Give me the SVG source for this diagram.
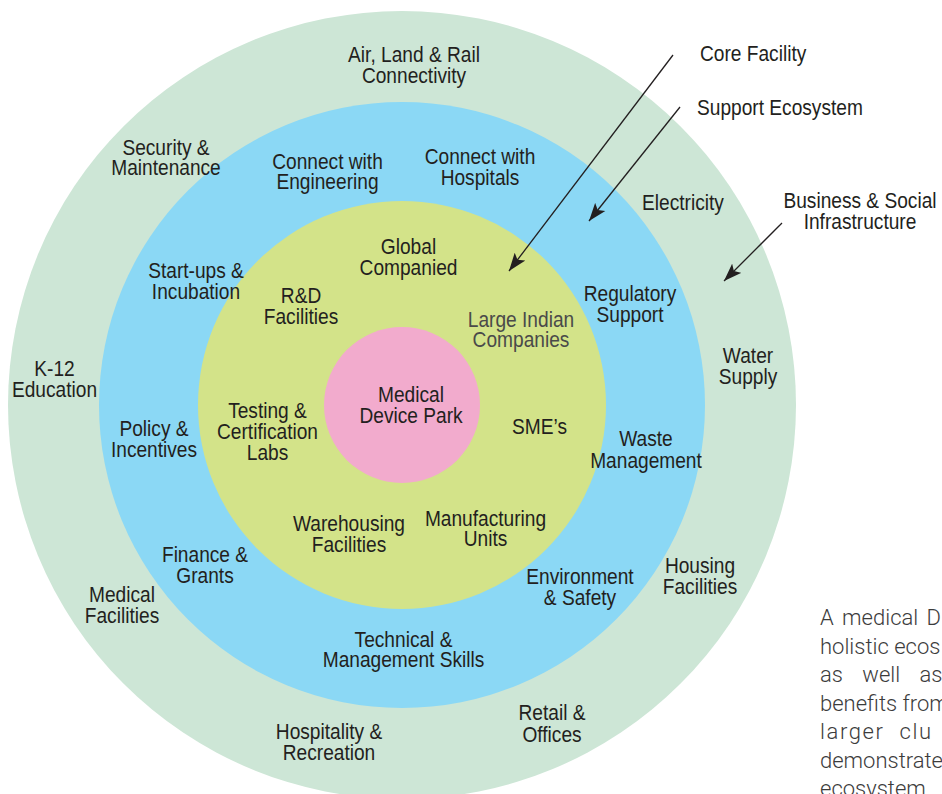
<svg xmlns="http://www.w3.org/2000/svg" width="942" height="794" viewBox="0 0 942 794">
<defs>
<style>
.t{font-family:"Liberation Sans",Arial,sans-serif;font-size:21.5px;fill:#231f20;text-anchor:middle}
.g{fill:#4a4a4a}
.p{font-family:Roboto,"Liberation Sans",sans-serif;font-weight:300;font-size:22px;fill:#3c3c3c}
.c{stroke:#231f20;stroke-width:1.3;fill:none}
</style>
<marker id="ah" markerUnits="userSpaceOnUse" markerWidth="20" markerHeight="14" refX="18" refY="7" orient="auto">
<path d="M0,0.5 L18,7 L0,13.5 L4,7 Z" fill="#231f20"/>
</marker>
</defs>
<rect width="942" height="794" fill="#ffffff"/>
<g id="rings">
<circle id="ring-business" cx="402" cy="405" r="394" fill="#cde6d6"/>
<circle id="ring-support" cx="402" cy="405" r="303" fill="#8bd8f5"/>
<circle id="ring-core" cx="402" cy="405" r="204" fill="#d3e389"/>
<circle id="ring-center" cx="402" cy="405" r="78" fill="#f2abcd"/>
</g>
<g id="connectors">
<line class="c" x1="673" y1="55" x2="509" y2="271" marker-end="url(#ah)"/>
<line class="c" x1="680" y1="107" x2="589" y2="221" marker-end="url(#ah)"/>
<line class="c" x1="782" y1="223" x2="724" y2="281" marker-end="url(#ah)"/>
</g>
<g id="n-center"><text class="t" transform="translate(411 0) scale(0.89 1)"><tspan x="0" y="401.7">Medical</tspan><tspan x="0" y="422.7">Device Park</tspan></text></g>
<g id="n-core-facility"><text class="t" style="text-anchor:start" transform="translate(700 0) scale(0.89 1)"><tspan x="0" y="60.7">Core Facility</tspan></text></g>
<g id="n-support-ecosystem"><text class="t" style="text-anchor:start" transform="translate(697 0) scale(0.89 1)"><tspan x="0" y="115">Support Ecosystem</tspan></text></g>
<g id="n-business"><text class="t" transform="translate(860 0) scale(0.89 1)"><tspan x="0" y="208">Business &amp; Social</tspan><tspan x="0" y="229">Infrastructure</tspan></text></g>
<g id="n-air"><text class="t" transform="translate(414 0) scale(0.89 1)"><tspan x="0" y="61.7">Air, Land &amp; Rail</tspan><tspan x="0" y="82.7">Connectivity</tspan></text></g>
<g id="n-security"><text class="t" transform="translate(166 0) scale(0.89 1)"><tspan x="0" y="155">Security &amp;</tspan><tspan x="0" y="175.5">Maintenance</tspan></text></g>
<g id="n-electricity"><text class="t" transform="translate(683 0) scale(0.89 1)"><tspan x="0" y="210">Electricity</tspan></text></g>
<g id="n-water"><text class="t" transform="translate(748 0) scale(0.89 1)"><tspan x="0" y="363.3">Water</tspan><tspan x="0" y="384.3">Supply</tspan></text></g>
<g id="n-k12"><text class="t" transform="translate(54.5 0) scale(0.89 1)"><tspan x="0" y="375.7">K-12</tspan><tspan x="0" y="396.7">Education</tspan></text></g>
<g id="n-housing"><text class="t" transform="translate(700 0) scale(0.89 1)"><tspan x="0" y="573.3">Housing</tspan><tspan x="0" y="594">Facilities</tspan></text></g>
<g id="n-medical"><text class="t" transform="translate(122 0) scale(0.89 1)"><tspan x="0" y="601.7">Medical</tspan><tspan x="0" y="622.7">Facilities</tspan></text></g>
<g id="n-retail"><text class="t" transform="translate(552 0) scale(0.89 1)"><tspan x="0" y="720.5">Retail &amp;</tspan><tspan x="0" y="741.7">Offices</tspan></text></g>
<g id="n-hospitality"><text class="t" transform="translate(329 0) scale(0.89 1)"><tspan x="0" y="739.3">Hospitality &amp;</tspan><tspan x="0" y="760.5">Recreation</tspan></text></g>
<g id="n-engineering"><text class="t" transform="translate(327.5 0) scale(0.89 1)"><tspan x="0" y="169">Connect with</tspan><tspan x="0" y="189.5">Engineering</tspan></text></g>
<g id="n-hospitals"><text class="t" transform="translate(480 0) scale(0.89 1)"><tspan x="0" y="164.3">Connect with</tspan><tspan x="0" y="185">Hospitals</tspan></text></g>
<g id="n-startups"><text class="t" transform="translate(196 0) scale(0.89 1)"><tspan x="0" y="278.3">Start-ups &amp;</tspan><tspan x="0" y="299.3">Incubation</tspan></text></g>
<g id="n-regulatory"><text class="t" transform="translate(630 0) scale(0.89 1)"><tspan x="0" y="301">Regulatory</tspan><tspan x="0" y="321.7">Support</tspan></text></g>
<g id="n-policy"><text class="t" transform="translate(154 0) scale(0.89 1)"><tspan x="0" y="436">Policy &amp;</tspan><tspan x="0" y="456.7">Incentives</tspan></text></g>
<g id="n-waste"><text class="t" transform="translate(646 0) scale(0.89 1)"><tspan x="0" y="446.5">Waste</tspan><tspan x="0" y="467.7">Management</tspan></text></g>
<g id="n-finance"><text class="t" transform="translate(205 0) scale(0.89 1)"><tspan x="0" y="561.7">Finance &amp;</tspan><tspan x="0" y="583.3">Grants</tspan></text></g>
<g id="n-environment"><text class="t" transform="translate(580 0) scale(0.89 1)"><tspan x="0" y="584.3">Environment</tspan><tspan x="0" y="605">&amp; Safety</tspan></text></g>
<g id="n-technical"><text class="t" transform="translate(403.5 0) scale(0.89 1)"><tspan x="0" y="646.7">Technical &amp;</tspan><tspan x="0" y="667.3">Management Skills</tspan></text></g>
<g id="n-global"><text class="t" transform="translate(408.5 0) scale(0.89 1)"><tspan x="0" y="254.3">Global</tspan><tspan x="0" y="275">Companied</tspan></text></g>
<g id="n-rd"><text class="t" transform="translate(301 0) scale(0.89 1)"><tspan x="0" y="303.3">R&amp;D</tspan><tspan x="0" y="324">Facilities</tspan></text></g>
<g id="n-large"><text class="t g" transform="translate(521 0) scale(0.89 1)"><tspan x="0" y="326.7">Large Indian</tspan><tspan x="0" y="347.3">Companies</tspan></text></g>
<g id="n-testing"><text class="t" transform="translate(267.5 0) scale(0.89 1)"><tspan x="0" y="418.3">Testing &amp;</tspan><tspan x="0" y="439.3">Certification</tspan><tspan x="0" y="460">Labs</tspan></text></g>
<g id="n-sme"><text class="t" transform="translate(539.5 0) scale(0.89 1)"><tspan x="0" y="434">SME’s</tspan></text></g>
<g id="n-warehousing"><text class="t" transform="translate(349 0) scale(0.89 1)"><tspan x="0" y="530.7">Warehousing</tspan><tspan x="0" y="551.7">Facilities</tspan></text></g>
<g id="n-manufacturing"><text class="t" transform="translate(485.5 0) scale(0.89 1)"><tspan x="0" y="525.7">Manufacturing</tspan><tspan x="0" y="546">Units</tspan></text></g>
<g id="paragraph">
<text class="p" x="820" y="625" word-spacing="3">A medical D</text>
<text class="p" x="820" y="653.5">holistic ecos</text>
<text class="p" x="820" y="682" word-spacing="14">as well as</text>
<text class="p" x="820" y="710.5">benefits from</text>
<text class="p" x="820" y="739" letter-spacing="1.6" word-spacing="8">larger clu</text>
<text class="p" x="820" y="767.5">demonstrate</text>
<text class="p" x="820" y="796">ecosystem</text>
</g>
</svg>
